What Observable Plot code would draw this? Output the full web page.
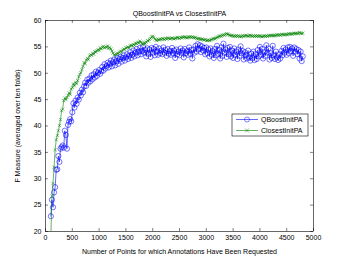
<!DOCTYPE html>
<html>
<head>
<meta charset="utf-8">
<script src="https://cdn.jsdelivr.net/npm/d3@7"></script>
<script src="https://cdn.jsdelivr.net/npm/@observablehq/plot@0.6"></script>
<style>
  html, body { margin: 0; padding: 0; background: #fff; }
</style>
</head>
<body>
<div id="chart"></div>
<script>
const title = "QBoostInitPA vs ClosestInitPA";
const xLabel = "Number of Points for which Annotations Have Been Requested";
const yLabel = "F Measure (averaged over ten folds)";
const seriesNames = ["QBoostInitPA", "ClosestInitPA"];
const xStart = 100;
const xStep = 20;
const xTicks = [0, 500, 1000, 1500, 2000, 2500, 3000, 3500, 4000, 4500, 5000];
const yTicks = [20, 25, 30, 35, 40, 45, 50, 55, 60];

const qboost = [
22.9,26.0,24.6,27.4,28.4,31.7,31.8,34.3,33.2,35.7,36.0,36.3,35.9,39.1,38.3,35.7,40.2,40.8,41.3,40.9,
42.6,44.3,43.5,44.8,44.2,45.4,45.0,46.3,45.8,46.9,46.4,47.5,48.2,47.6,48.8,48.2,49.0,48.5,49.6,48.9,
49.8,49.2,50.3,49.5,50.1,50.6,49.9,50.4,51.2,50.5,51.7,50.9,51.4,52.0,51.1,51.8,52.4,51.3,52.1,52.6,
51.5,52.3,52.9,51.8,52.7,53.1,52.2,52.9,53.4,52.4,53.0,53.6,52.7,53.3,54.0,52.9,53.5,54.3,53.2,53.9,
54.6,53.4,54.1,54.8,53.6,54.2,55.0,53.9,54.4,53.2,54.7,53.7,54.5,53.1,54.8,53.9,54.6,53.4,55.0,54.1,
53.5,54.7,53.8,54.3,53.6,54.9,53.9,54.4,53.3,54.6,53.7,54.2,53.5,54.8,53.8,54.3,52.9,54.5,53.6,54.1,
53.4,54.7,53.9,54.3,53.0,54.6,53.8,54.2,53.5,54.9,53.7,54.4,52.8,54.5,53.9,55.2,54.1,55.5,54.6,55.3,
54.0,55.1,54.3,54.8,53.6,54.9,53.8,54.5,53.2,54.7,53.5,54.2,52.9,54.6,53.4,55.2,53.7,54.4,52.8,54.9,
53.3,55.6,53.9,54.5,53.1,54.8,53.6,55.0,53.2,54.3,52.9,54.7,53.5,54.1,52.7,54.5,53.3,55.1,53.8,54.2,
52.6,54.0,53.4,52.8,54.3,53.0,52.4,53.7,52.9,54.1,52.5,53.6,52.7,54.4,53.2,55.0,53.5,54.6,52.8,54.0,
53.3,55.3,53.9,54.7,52.6,53.8,52.9,55.2,53.4,52.7,54.1,53.0,52.5,53.6,52.8,54.2,53.4,54.8,53.9,54.5,
53.5,54.9,53.8,55.0,54.2,54.7,53.3,54.9,54.1,54.6,53.6,54.4,52.8,54.1,52.3,53.2
];

const closest = [
19.0,26.7,29.1,32.2,35.5,37.4,38.2,39.1,40.1,41.2,42.9,43.2,44.8,45.3,45.0,45.4,45.8,46.3,46.0,47.0,
47.3,48.0,47.6,48.3,48.0,48.6,49.3,49.8,50.1,50.7,51.3,52.0,51.8,52.5,52.8,52.6,53.3,53.5,53.4,53.8,
53.6,54.1,54.0,54.3,54.5,54.3,54.8,54.6,54.9,55.1,54.8,55.0,54.9,55.2,54.7,54.9,54.6,54.2,53.8,53.5,
53.4,53.6,53.8,53.7,54.0,54.2,54.0,54.4,54.6,54.5,54.8,54.9,55.0,54.8,55.2,55.3,55.2,55.5,55.3,55.7,
55.6,55.9,55.7,56.1,55.9,55.7,55.4,55.8,55.6,55.9,56.2,56.1,56.4,56.6,56.9,57.0,56.8,56.5,56.3,56.2,
56.4,56.3,56.5,56.4,56.6,56.5,56.4,56.6,56.5,56.7,56.6,56.5,56.6,56.7,56.6,56.5,56.6,56.7,56.8,56.7,
56.6,56.8,56.7,56.9,56.8,56.9,56.8,56.7,56.9,56.8,56.9,56.8,56.9,56.8,56.7,56.8,56.6,56.5,56.6,56.5,
56.4,56.5,56.4,56.3,56.4,56.2,56.2,56.3,56.2,56.3,56.4,56.5,56.6,56.5,56.7,56.8,56.9,57.0,57.1,57.0,
57.2,57.3,57.2,57.4,57.5,57.4,57.3,57.2,57.1,57.2,57.0,57.1,57.0,57.1,57.0,57.1,57.0,56.9,57.0,57.1,
57.0,57.1,57.2,57.1,57.0,57.1,57.2,57.1,57.0,57.1,57.0,57.1,57.0,57.1,57.0,57.1,57.0,56.9,57.0,57.1,
57.0,57.1,57.0,57.1,57.2,57.1,57.2,57.1,57.2,57.1,57.2,57.3,57.2,57.3,57.2,57.3,57.4,57.3,57.3,57.4,
57.3,57.4,57.5,57.4,57.5,57.4,57.5,57.6,57.5,57.6,57.5,57.6,57.7,57.6,57.5,57.6
];

const blueData = qboost.map((v, i) => ({x: xStart + i * xStep, y: v}));
const greenData = closest.map((v, i) => ({x: xStart + i * xStep, y: v}));

const W = 346, H = 260;
const mL = 45, mR = 33, mT = 20, mB = 29;
const pw = W - mL - mR, ph = H - mT - mB;
const blue = "#0000ff", green = "#008000";
const font = "'Liberation Sans', Arial, Helvetica, sans-serif";

const chart = Plot.plot({
  width: W, height: H,
  marginLeft: mL, marginRight: mR, marginTop: mT, marginBottom: mB,
  style: {fontFamily: font, fontSize: "7px", background: "#fff", color: "#000"},
  x: {domain: [0, 5000]},
  y: {domain: [20, 60]},
  marks: [
    Plot.line(blueData, {x: "x", y: "y", stroke: blue, strokeWidth: 0.6, clip: true}),
    Plot.dot(blueData, {x: "x", y: "y", r: 2.6, stroke: blue, strokeWidth: 0.55, fill: "none", clip: true}),
    Plot.line(greenData, {x: "x", y: "y", stroke: green, strokeWidth: 0.6, clip: true}),
    Plot.dot(greenData, {x: "x", y: "y", r: 1.6, symbol: "times", stroke: green, strokeWidth: 0.5, clip: true}),
    Plot.frame({stroke: "#000", strokeWidth: 0.6}),
    Plot.tickX(xTicks, {x: d => d, insetTop: ph - 3, stroke: "#000", strokeWidth: 0.5}),
    Plot.tickX(xTicks, {x: d => d, insetBottom: ph - 3, stroke: "#000", strokeWidth: 0.5}),
    Plot.tickY(yTicks, {y: d => d, insetRight: pw - 3, stroke: "#000", strokeWidth: 0.5}),
    Plot.tickY(yTicks, {y: d => d, insetLeft: pw - 3, stroke: "#000", strokeWidth: 0.5}),
    Plot.axisX({ticks: xTicks, tickSize: 0, tickPadding: 4, tickFormat: d => String(d),
      label: xLabel, labelAnchor: "center", labelArrow: "none", labelOffset: 22}),
    Plot.axisY({ticks: yTicks, tickSize: 0, tickPadding: 4, tickFormat: d => String(d),
      label: yLabel, labelAnchor: "center", labelArrow: "none", labelOffset: 30}),
    Plot.text([title], {frameAnchor: "top", dy: -9, fontSize: 7})
  ]
});

// legend
const svg = d3.select(chart);
const lg = svg.append("g").attr("font-family", font).attr("font-size", 7)
  .attr("text-anchor", "start").attr("fill", "#000");
const lx = 232, ly = 114, lw = 76, lh = 22;
lg.append("rect").attr("x", lx).attr("y", ly).attr("width", lw).attr("height", lh)
  .attr("fill", "#fff").attr("stroke", "#000").attr("stroke-width", 0.6);
const rows = [
  {name: seriesNames[0], color: blue, sym: "circle"},
  {name: seriesNames[1], color: green, sym: "times"}
];
rows.forEach((r, i) => {
  const cy = ly + 5.5 + i * 11;
  lg.append("line").attr("x1", lx + 4).attr("x2", lx + 26).attr("y1", cy).attr("y2", cy)
    .attr("stroke", r.color).attr("stroke-width", 0.6);
  if (r.sym === "circle") {
    lg.append("circle").attr("cx", lx + 15).attr("cy", cy).attr("r", 2.5)
      .attr("fill", "none").attr("stroke", r.color).attr("stroke-width", 0.5);
  } else {
    lg.append("path").attr("transform", `translate(${lx + 15},${cy})`)
      .attr("d", d3.symbol(d3.symbolTimes, 12)())
      .attr("fill", "none").attr("stroke", r.color).attr("stroke-width", 0.5);
  }
  lg.append("text").attr("x", lx + 29).attr("y", cy).attr("dy", "0.35em")
    .attr("text-anchor", "start").attr("fill", "#000").text(r.name);
});

document.getElementById("chart").appendChild(chart);
</script>
</body>
</html>
